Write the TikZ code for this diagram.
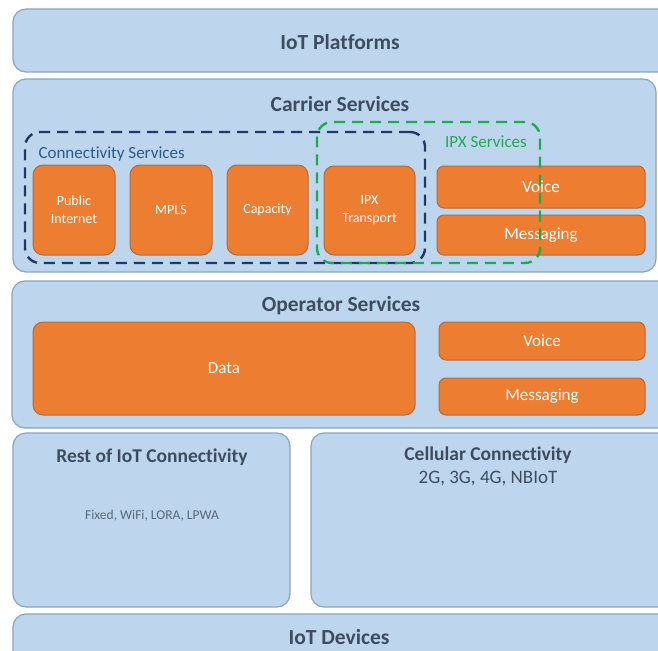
\documentclass[tikz,border=0pt]{standalone}
\usepackage{fontspec}
\setmainfont{Carlito}[Ligatures=NoCommon]
\usetikzlibrary{fit}
\definecolor{paleblue}{HTML}{BDD6EE}
\definecolor{blueedge}{HTML}{8AA5BF}
\definecolor{orangefill}{HTML}{ED7D31}
\definecolor{orangeedge}{HTML}{B8693A}
\definecolor{titletext}{HTML}{3E4C61}
\definecolor{navydash}{HTML}{203864}
\definecolor{greendash}{HTML}{1DAA50}
\definecolor{connlabel}{HTML}{2E5A88}
\begin{document}
\begin{tikzpicture}[x=1pt,y=-1pt,
  layer/.style={draw=blueedge, fill=paleblue, line width=1.2pt, rounded corners=13pt, inner sep=0pt},
  service/.style={draw=orangeedge, fill=orangefill, line width=1pt, rounded corners=10pt, inner sep=0pt},
  bar/.style={service, rounded corners=7pt},
  heading/.style={font=\fontsize{21.5}{25}\selectfont\bfseries, text=titletext},
  subheading/.style={font=\fontsize{19.5}{23}\selectfont\bfseries, text=titletext},
  inside/.style={font=\fontsize{14}{18}\selectfont, text=white, align=center},
  insidebig/.style={font=\fontsize{17}{20}\selectfont, text=white},
  group/.style={line width=2.4pt, rounded corners=15pt, dash pattern=on 11pt off 7pt, inner sep=0pt}
]
\useasboundingbox (0,0) rectangle (658,650);
\clip (0,0) rectangle (658,650);

% stack of layers
\node[layer, fit={(13,9) (680,72)}] (platforms) {};
\node[heading] (platformsT) at (340,42) {IoT Platforms};

\node[layer, fit={(13,79) (656,272)}] (carrier) {};
\node[heading] (carrierT) at (340,104) {Carrier Services};

\node[layer, fit={(12,281) (680,428)}] (operator) {};
\node[heading] (operatorT) at (341,306) {Operator Services};

\node[layer, fit={(13,433) (290,607)}] (rest) {};
\node[subheading] (restT) at (152,457) {Rest of IoT Connectivity};
\node[font=\fontsize{13.5}{16}\selectfont, text=titletext!85] (restS) at (152,516) {Fixed, WiFi, LORA, LPWA};

\node[layer, fit={(311,433) (680,607)}] (cellular) {};
\node[subheading] (cellularT) at (488,455) {Cellular Connectivity};
\node[font=\fontsize{19}{22}\selectfont, text=titletext] (cellularS) at (488,479) {2G, 3G, 4G, NBIoT};

\node[layer, fit={(13,614) (680,690)}] (devices) {};
\node[heading, inner sep=1pt] (devicesT) at (339,637) {IoT Devices};

% carrier services blocks
\node[service, fit={(33,165) (115,255)}] (public) {};
\node[inside] at (public.center) {Public\\Internet};
\node[service, fit={(130,165) (212,255)}] (mpls) {};
\node[inside] at (mpls.center) {MPLS};
\node[service, fit={(227,165) (308,255)}] (capacity) {};
\node[inside] at (capacity.center) {Capacity};
\node[service, fit={(324,166) (415,255)}] (ipxt) {};
\node[inside] at (ipxt.center) {IPX\\Transport};
\node[bar, fit={(437,166) (645,208)}] (cvoice) {};
\node[insidebig] at (cvoice.center) {Voice};
\node[bar, fit={(437,215) (645,255)}] (cmsg) {};
\node[insidebig] at (cmsg.center) {Messaging};

% operator services blocks
\node[service, fit={(33,322) (415,415)}] (data) {};
\node[insidebig] at (data.center) {Data};
\node[bar, fit={(439,322) (645,360)}] (ovoice) {};
\node[insidebig] at (ovoice.center) {Voice};
\node[bar, fit={(439,378) (645,415)}] (omsg) {};
\node[insidebig] at (omsg.center) {Messaging};

% dashed groupings
\node[group, draw=navydash, fit={(25,132) (425,263)}] (conn) {};
\node[anchor=west, font=\fontsize{17}{20}\selectfont, text=connlabel] (connT) at (35,154) {Connectivity Services};
\node[group, draw=greendash, fit={(317,122) (540,263)}] (ipx) {};
\node[font=\fontsize{17}{20}\selectfont, text=greendash] (ipxT) at (486,142) {IPX Services};
\end{tikzpicture}
\end{document}
